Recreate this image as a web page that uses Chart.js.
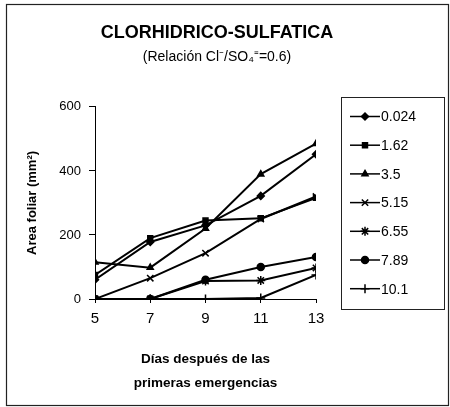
<!DOCTYPE html>
<html>
<head>
<meta charset="utf-8">
<script src="https://cdn.jsdelivr.net/npm/chart.js@4"></script>
<style>
  html, body { margin: 0; padding: 0; background: #fff; }
  #wrap { width: 450px; height: 407px; }
</style>
</head>
<body>
<div id="wrap"><canvas id="chart" width="450" height="407"></canvas></div>
<script>
// Days after first emergence (x) and leaf area per salinity level (mm2)
const days = [5, 7, 9, 11, 13];
const seriesNames = ['0.024', '1.62', '3.5', '5.15', '6.55', '7.89', '10.1'];
const s0024 = [60, 178, 230, 322, 452];
const s162 = [75, 190, 245, 252, 316];
const s35 = [115, 98, 220, 390, 485];
const s515 = [0, 65, 143, 250, 320];
const s655 = [0, 0, 56, 58, 97];
const s789 = [0, 0, 60, 100, 131];
const s101 = [0, 0, 0, 3, 75];
const yTicks = [0, 200, 400, 600];

const seriesValues = [s0024, s162, s35, s515, s655, s789, s101];
const markers = ['rectRot', 'rect', 'triangle', 'crossRot', 'star', 'circle', 'cross'];

Chart.defaults.font.family = "'Liberation Sans', Arial, sans-serif";
Chart.defaults.color = '#000';

const datasets = seriesNames.map((name, i) => ({
  label: name,
  data: days.map((d, j) => ({ x: d, y: seriesValues[i][j] })),
  borderColor: '#000',
  backgroundColor: '#000',
  borderWidth: 2,
  pointStyle: markers[i],
  pointRadius: markers[i] === 'crossRot' || markers[i] === 'star' || markers[i] === 'cross' ? 4.5 : 3.5,
  pointBorderWidth: 1.5,
  pointBorderColor: '#000',
  pointBackgroundColor: '#000',
  tension: 0
}));

// outer frame + boxed legend, drawn after the chart
const framePlugin = {
  id: 'frame',
  afterDraw(chart) {
    const ctx = chart.ctx;
    ctx.save();
    ctx.strokeStyle = '#222';
    ctx.lineWidth = 1.2;
    ctx.strokeRect(6.5, 4.5, 442, 401);

    // legend box
    ctx.lineWidth = 1;
    ctx.strokeRect(341.5, 97.5, 103, 212);
    chart.data.datasets.forEach((ds, i) => {
      const y = 116.5 + i * 28.7;
      ctx.strokeStyle = '#000';
      ctx.lineWidth = 1.5;
      ctx.beginPath();
      ctx.moveTo(350, y);
      ctx.lineTo(380, y);
      ctx.stroke();
      ctx.fillStyle = '#000';
      Chart.helpers.drawPoint(ctx, {
        pointStyle: ds.pointStyle,
        radius: ds.pointRadius,
        rotation: 0,
        borderWidth: 1.5
      }, 365, y);
      ctx.font = "14px 'Liberation Sans', Arial, sans-serif";
      ctx.textBaseline = 'middle';
      ctx.textAlign = 'left';
      ctx.fillText(ds.label, 381, y + 1);
    });
    ctx.restore();
  }
};

new Chart(document.getElementById('chart'), {
  type: 'line',
  data: { datasets },
  options: {
    responsive: false,
    animation: false,
    layout: { padding: { left: 0, right: 16, top: 0, bottom: 0 } },
    plugins: {
      legend: { display: false },
      tooltip: { enabled: false },
      title: {
        display: true,
        text: 'CLORHIDRICO-SULFATICA',
        font: { size: 18, weight: 'bold' },
        color: '#000',
        padding: { top: 22, bottom: 5 }
      },
      subtitle: {
        display: true,
        text: '(Relación Cl⁻/SO₄⁼=0.6)',
        font: { size: 14 },
        color: '#000',
        padding: { top: 0, bottom: 41.5 }
      }
    },
    scales: {
      x: {
        type: 'linear',
        min: 5,
        max: 13,
        afterBuildTicks: scale => { scale.ticks = days.map(v => ({ value: v })); },
        afterFit: scale => { scale.height = 108; },
        ticks: { font: { size: 15 }, padding: 7, color: '#000' },
        grid: { drawOnChartArea: false, tickLength: 4, color: '#000' },
        border: { color: '#000', width: 1 },
        title: {
          display: true,
          text: ['Días después de las', 'primeras emergencias'],
          font: { size: 13.5, weight: 'bold', lineHeight: '24px' },
          color: '#000',
          padding: { top: 0, bottom: 12 }
        }
      },
      y: {
        min: 0,
        max: 600,
        afterBuildTicks: scale => { scale.ticks = yTicks.map(v => ({ value: v })); },
        afterFit: scale => { scale.width = 95; },
        ticks: { font: { size: 13 }, padding: 8, color: '#000' },
        grid: { drawOnChartArea: false, tickLength: 6, color: '#000' },
        border: { color: '#000', width: 1, dash: [4, 2] },
        title: {
          display: true,
          text: 'Area foliar (mm²)',
          font: { size: 13, weight: 'bold' },
          color: '#000',
          padding: { top: 25, bottom: 0 }
        }
      },
      // empty right-hand axis that only reserves room for the legend box
      yRight: {
        position: 'right',
        display: true,
        min: 0,
        max: 600,
        afterFit: scale => { scale.width = 118; },
        ticks: { display: false },
        grid: { display: false },
        border: { display: false }
      }
    }
  },
  plugins: [framePlugin]
});
</script>
</body>
</html>
